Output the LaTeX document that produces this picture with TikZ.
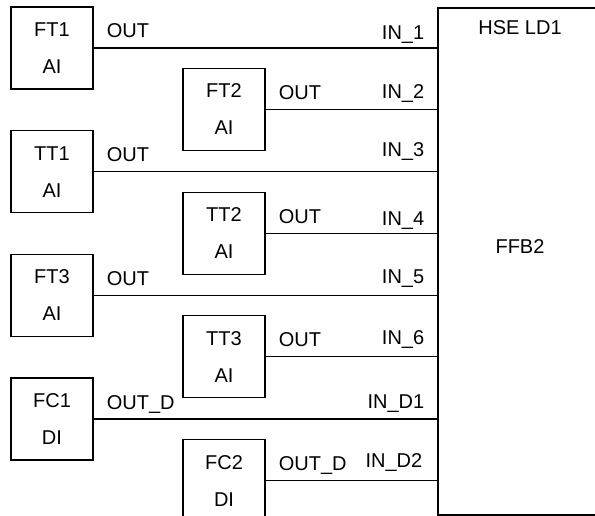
\documentclass[tikz,border=0pt]{standalone}
\usepackage{fontspec}
\setmainfont{Liberation Sans}
\usetikzlibrary{positioning}

\begin{document}
\begin{tikzpicture}[
  x=1pt, y=1pt,
  node distance=40.5pt,
  box/.style={draw, line width=1.2pt, minimum width=82pt, minimum height=82pt, inner sep=0pt, align=center, font=\fontsize{20pt}{37pt}\selectfont},
  wire/.style={line width=1.2pt},
  outlbl/.style={inner sep=0pt, anchor=base west, xshift=13pt, yshift=10pt, font=\fontsize{20pt}{24pt}\selectfont},
  inlbl/.style={inner sep=0pt, anchor=base east, xshift=-13pt, yshift=11pt, font=\fontsize{20pt}{24pt}\selectfont}
]
\useasboundingbox (0,0) rectangle (595,516);
\clip (0,0) rectangle (595,516);

% function block
\node[draw, line width=1.2pt, minimum width=182pt, minimum height=507pt] (ffb) at (529,254.5) {};
\node[inner sep=0pt, anchor=base, font=\fontsize{20pt}{24pt}\selectfont] (ld) at (520,481) {HSE LD1};
\node[inner sep=0pt, anchor=base, font=\fontsize{20pt}{24pt}\selectfont] (name) at (520,262) {FFB2};

% left column
\node[box] (ft1) at (52,468) {FT1\\AI};
\node[box, below=of ft1] (tt1) {TT1\\AI};
\node[box, below=of tt1] (ft3) {FT3\\AI};
\node[box, below=of ft3] (fc1) {FC1\\DI};

% middle column
\node[box] (ft2) at (224,406.5) {FT2\\AI};
\node[box, below=of ft2] (tt2) {TT2\\AI};
\node[box, below=of tt2] (tt3) {TT3\\AI};
\node[box, below=of tt3] (fc2) {FC2\\DI};

\draw[wire] (ft1.east) -- (ft1.east -| ffb.west);
\draw[wire] (ft2.east) -- (ft2.east -| ffb.west);
\draw[wire] (tt1.east) -- (tt1.east -| ffb.west);
\draw[wire] (tt2.east) -- (tt2.east -| ffb.west);
\draw[wire] (ft3.east) -- (ft3.east -| ffb.west);
\draw[wire] (tt3.east) -- (tt3.east -| ffb.west);
\draw[wire] (fc1.east) -- (fc1.east -| ffb.west);
\draw[wire] (fc2.east) -- (fc2.east -| ffb.west);

\node[outlbl] (o1) at (ft1.east) {OUT};
\node[outlbl] (o2) at (ft2.east) {OUT};
\node[outlbl] (o3) at (tt1.east) {OUT};
\node[outlbl] (o4) at (tt2.east) {OUT};
\node[outlbl] (o5) at (ft3.east) {OUT};
\node[outlbl] (o6) at (tt3.east) {OUT};
\node[outlbl] (o7) at (fc1.east) {OUT\_D};
\node[outlbl] (o8) at (fc2.east) {OUT\_D};

\node[inlbl, yshift=-3pt] (i1) at (ft1.east -| ffb.west) {IN\_1};
\node[inlbl] (i2) at (ft2.east -| ffb.west) {IN\_2};
\node[inlbl, yshift=4pt] (i3) at (tt1.east -| ffb.west) {IN\_3};
\node[inlbl, yshift=-3pt] (i4) at (tt2.east -| ffb.west) {IN\_4};
\node[inlbl, yshift=1pt] (i5) at (ft3.east -| ffb.west) {IN\_5};
\node[inlbl, yshift=1pt] (i6) at (tt3.east -| ffb.west) {IN\_6};
\node[inlbl] (i7) at (fc1.east -| ffb.west) {IN\_D1};
\node[inlbl, yshift=2pt, xshift=-2pt] (i8) at (fc2.east -| ffb.west) {IN\_D2};
\end{tikzpicture}
\end{document}
